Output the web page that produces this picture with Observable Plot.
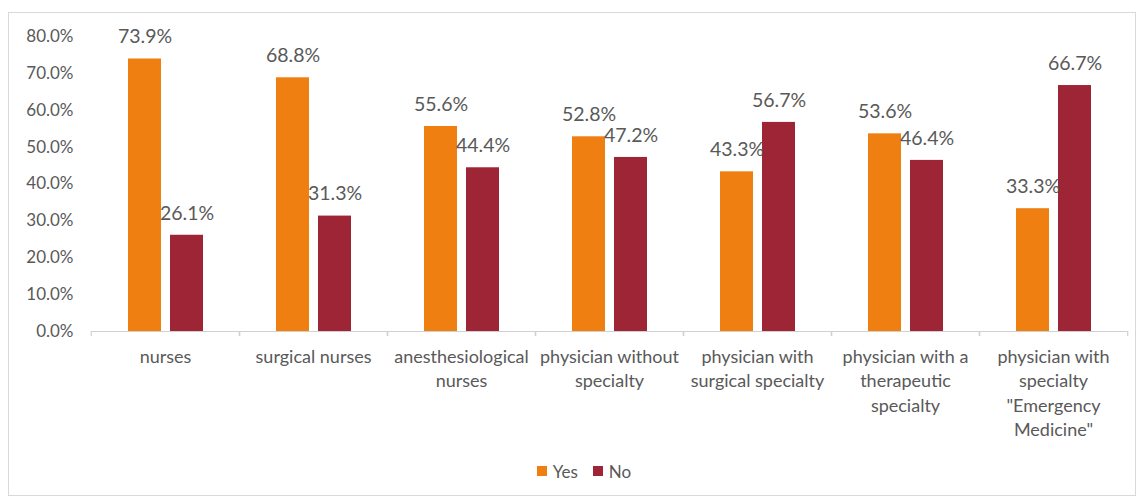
<!DOCTYPE html>
<html><head><meta charset="utf-8">
<script src="https://cdn.jsdelivr.net/npm/d3@7"></script>
<script src="https://cdn.jsdelivr.net/npm/@observablehq/plot@0.6"></script>
<style>
body{margin:0;background:#fff;font-family:Lato, "Open Sans", sans-serif;}
#frame{position:absolute;left:8px;top:12px;width:1126px;height:482px;border:1px solid #d9d9d9;}
#legend{display:flex;justify-content:center;align-items:center;gap:15px;color:#595959;font-size:17px;padding-left:24px;margin-top:8px;height:20px;}
.item{display:flex;align-items:center;}
.sw{display:inline-block;width:10px;height:10px;margin-right:6px;}
</style></head><body>
<div id="frame"><div id="chart"></div><div id="legend"></div></div>
<script>
const categories = ["nurses","surgical nurses","anesthesiological nurses","physician without specialty","physician with surgical specialty","physician with a therapeutic specialty","physician with specialty \"Emergency Medicine\""];
const tickLabels = ["nurses","surgical nurses","anesthesiological\nnurses","physician without\nspecialty","physician with\nsurgical specialty","physician with a\ntherapeutic\nspecialty","physician with\nspecialty\n\"Emergency\nMedicine\""];
const yesValues = [73.9, 68.8, 55.6, 52.8, 43.3, 53.6, 33.3];
const noValues  = [26.1, 31.3, 44.4, 47.2, 56.7, 46.4, 66.7];
const seriesNames = ["Yes","No"];
const seriesColors = ["#EE7F10","#9E2536"];
const yTicks = [0, 0.1, 0.2, 0.3, 0.4, 0.5, 0.6, 0.7, 0.8];

const rows = categories.flatMap((c, i) => [
  {category: c, series: "Yes", value: yesValues[i] / 100},
  {category: c, series: "No", value: noValues[i] / 100}
]);
const labelRows = categories.map((c, i) => ({category: c, label: tickLabels[i]}));
const fmt = d3.format(".1%");

const W = 1126, ML = 80, MR = 7;
const halfStep = (W - ML - MR) / categories.length / 2;

const chart = Plot.plot({
  width: W,
  height: 440,
  marginTop: 23,
  marginBottom: 122,
  marginLeft: ML,
  marginRight: MR,
  style: {fontFamily: "Lato, 'Open Sans', sans-serif", color: "#595959", background: "white"},
  fx: {domain: categories, axis: null, paddingInner: 0, paddingOuter: 0, label: null},
  x: {domain: seriesNames, axis: null, paddingInner: 0.22, paddingOuter: 0.86, label: null},
  y: {domain: [0, 0.8], label: null},
  color: {domain: seriesNames, range: seriesColors},
  marks: [
    Plot.axisY(yTicks, {tickFormat: fmt, tickSize: 0, tickPadding: 18, fontSize: 17, fill: "#595959", label: null}),
    Plot.barY(rows, {fx: "category", x: "series", y: "value", fill: "series"}),
    Plot.ruleY([0], {stroke: "#d0d0d0", strokeWidth: 1.2}),
    Plot.axisFx({anchor: "bottom", tickSize: 5, tickFormat: () => "", stroke: "#d0d0d0", strokeWidth: 1.2, dx: -halfStep, label: null}),
    Plot.axisFx({anchor: "bottom", tickSize: 5, tickFormat: () => "", stroke: "#d0d0d0", strokeWidth: 1.2, dx: halfStep, label: null}),
    Plot.text(rows, {fx: "category", x: "series", y: "value", text: d => fmt(d.value), dy: -22, fontSize: 19.5, fill: "#595959"}),
    Plot.text(labelRows, {fx: "category", text: "label", frameAnchor: "bottom", lineAnchor: "top", dy: 14, lineHeight: 1.36, fontSize: 18, fill: "#595959"})
  ]
});
document.getElementById("chart").appendChild(chart);

const legend = document.getElementById("legend");
seriesNames.forEach((s, i) => {
  const item = document.createElement("span");
  item.className = "item";
  item.innerHTML = `<span class="sw" style="background:${seriesColors[i]}"></span>${s}`;
  legend.appendChild(item);
});
</script>
</body></html>
